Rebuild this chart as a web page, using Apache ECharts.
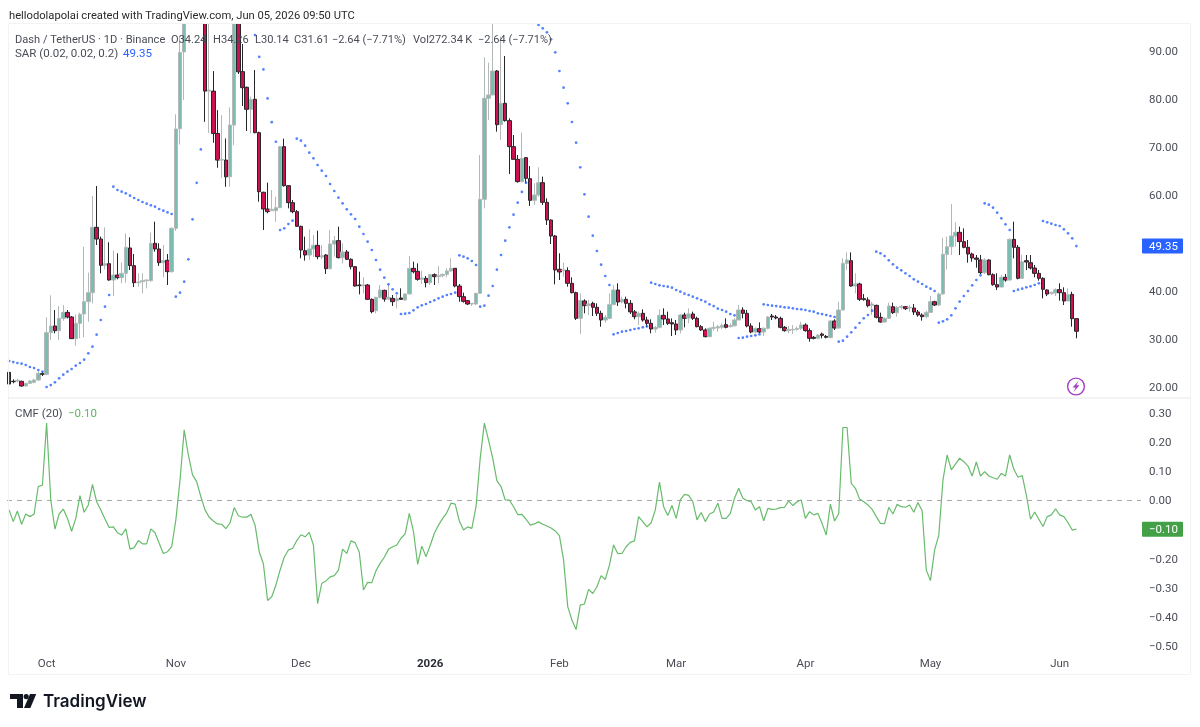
<!DOCTYPE html>
<html><head><meta charset="utf-8"><title>Dash / TetherUS</title>
<style>html,body{margin:0;padding:0;background:#fff}#c{width:1200px;height:727px}</style>
<script src="https://cdn.jsdelivr.net/npm/echarts@6/dist/echarts.min.js"></script></head>
<body><div id="c"></div>
<script>
const opens=[23.05,21.18,21.25,21.18,20.21,20.76,20.97,21.46,22.78,22.64,
31.32,32.71,31.73,34.3,35.55,34.58,30.07,33.26,35.21,37.78,
39.65,53.26,50.83,45.35,45.69,42.29,43.33,42.78,43.68,48.96,
45.28,41.73,41.94,42.15,42.15,49.93,48.75,45.9,46.39,44.03,
53.05,73.8,89.8,102,110,120,116,108,81.64,81.64,
72.82,67.27,67.27,63.79,74.56,100,85.7,82.43,77.85,79.93,
72.99,60.56,57.08,56.74,56.74,57.36,70.07,61.94,58.4,56.53,
53.47,48.4,47.5,48.75,49.51,47.08,47.5,44.65,49.79,50.49,
46.94,48.13,46.6,45.07,41.25,41.11,41.25,38.26,35.9,38.68,
40.14,38.33,38.47,37.99,38.54,38.12,39.38,44.72,44.1,42.43,
42.64,41.74,43.4,42.99,43.19,43.47,44.17,44.72,41.04,38.82,
37.99,37.29,37.29,39.51,59.1,80.14,80.84,85.83,74.65,79.1,
75.49,70.07,67.43,62.78,67.78,63.4,58.89,60.0,62.57,58.47,
54.79,51.46,44.52,44.24,44.24,41.6,39.65,34.31,37.92,36.95,
37.43,36.6,35.35,33.96,34.3,37.15,40.21,37.71,38.26,37.43,
35.65,34.65,35.35,33.96,33.26,32.08,32.43,34.93,34.17,33.4,
33.13,31.88,35.0,34.38,35.21,34.3,32.57,31.88,30.49,32.22,
32.29,32.43,32.99,32.57,32.78,33.96,36.04,35.35,32.71,31.46,
32.15,31.46,32.22,34.79,34.58,34.3,32.43,31.74,31.88,32.01,
32.22,32.92,31.74,30.35,30.14,31.04,30.55,30.28,33.75,32.29,
36.04,45.76,46.32,41.04,41.46,38.4,38.12,37.01,37.01,34.51,
33.54,34.3,36.73,35.49,36.6,36.73,36.46,36.46,35.62,35.0,
34.65,35.55,37.78,37.08,39.37,47.64,49.23,51.46,52.22,50.28,
49.1,47.71,46.87,46.46,43.82,46.46,43.4,41.32,40.83,42.85,
42.29,50.76,49.1,42.64,46.32,45.9,44.79,43.68,42.64,40.21,
39.51,39.58,40.28,39.65,37.92,39.3,34.24];
const closes=[20.62,21.11,21.39,20.21,20.76,21.25,21.46,22.85,22.64,31.32,
32.71,31.73,34.3,35.55,34.58,30.07,33.26,35.14,37.78,39.65,
53.26,50.83,45.35,45.69,42.29,43.33,42.78,43.68,49.1,45.28,
41.73,41.87,42.15,42.29,49.93,48.75,45.9,46.32,44.03,53.05,
73.75,89.7,102,110,120,116,125,81.64,81.85,72.82,
67.27,67.4,63.79,74.56,100,85.67,82.36,77.85,79.93,72.99,
60.69,57.08,56.53,57.01,57.36,70.07,61.94,58.4,56.53,53.47,
48.54,47.5,48.75,49.51,47.15,47.36,44.65,49.79,50.49,46.94,
48.13,46.6,45.07,41.04,41.11,41.25,38.26,35.7,38.68,40.21,
38.33,38.68,37.78,38.4,38.26,39.38,44.72,44.03,42.43,42.71,
41.74,43.4,42.99,43.19,43.47,44.17,44.72,41.04,38.82,37.85,
37.29,37.43,39.51,59.1,80.14,80.84,85.83,74.65,79.1,75.49,
70.07,67.43,62.78,67.64,63.47,58.89,60.0,62.57,58.47,54.79,
51.46,44.38,43.96,44.38,41.6,39.65,34.31,38.0,36.95,37.3,
36.6,35.35,33.96,34.51,37.15,40.21,37.71,38.26,37.43,35.65,
34.65,35.35,33.96,33.26,32.08,32.43,34.93,34.17,33.26,33.13,
31.88,35.0,34.3,35.21,34.3,32.57,31.88,30.49,32.22,32.43,
32.57,32.85,32.43,32.78,33.96,36.04,35.35,32.71,31.46,32.15,
31.46,32.22,34.58,34.58,34.38,32.43,31.74,32.01,32.01,32.22,
32.92,31.74,30.14,30.14,30.83,30.76,30.35,33.75,32.29,36.04,
45.76,46.46,41.04,41.46,38.26,38.19,36.94,37.29,34.51,33.54,
34.3,36.87,35.49,36.6,36.8,36.32,36.6,35.62,35.0,34.65,
35.55,37.78,37.08,39.37,47.64,49.23,51.46,52.22,50.28,49.1,
47.71,46.87,46.6,43.82,46.46,43.4,41.32,40.83,42.85,42.29,
50.76,49.1,42.64,46.11,46.04,44.79,43.68,42.64,40.35,39.37,
39.72,40.28,39.65,37.92,39.23,34.24,31.61];
const highs=[23.19,21.6,21.73,21.32,20.9,21.46,21.73,23.19,23.19,34.51,
39.1,36.04,36.87,37.08,36.04,34.79,35.07,35.49,49.23,43.82,
59.79,61.87,51.32,53.26,50.14,48.4,47.85,45.9,52.01,51.18,
47.71,43.68,43.68,42.43,52.15,54.44,49.93,49.58,47.71,53.26,
76.8,93,105,118,126,130,128,110,96.5,85.81,
77.68,76.64,71.78,78.24,104,103,91.46,82.6,80.5,86.04,
73.2,60.69,62.57,61.04,59.65,70.21,71.74,62.08,58.96,56.88,
53.6,51.32,52.85,51.67,52.57,49.58,47.71,52.71,51.46,53.4,
49.93,48.54,46.81,45.21,44.03,42.85,41.46,38.47,38.82,41.25,
40.28,41.25,39.17,39.17,40.55,39.51,47.29,46.11,45.76,44.24,
43.13,43.47,43.68,45.21,43.68,44.72,46.81,44.8,41.46,39.65,
38.12,37.5,39.65,68.33,88.68,87.57,97,86.04,92.99,88.96,
75.97,72.5,68.33,73.0,67.9,66.04,62.43,65.77,63.82,59.31,
54.9,51.67,47.85,45.9,44.93,42.85,39.86,39.51,38.27,38.13,
37.78,37.43,35.9,35.0,39.51,41.25,41.6,38.82,38.82,38.13,
36.04,35.7,36.18,34.65,34.1,32.71,36.18,36.39,35.7,34.3,
33.96,35.21,35.49,36.39,35.7,34.65,32.92,32.22,32.43,33.61,
32.92,33.26,34.3,33.26,34.3,37.08,36.6,36.04,33.26,32.43,
33.47,32.43,34.79,35.21,35.0,34.65,32.71,32.71,32.92,32.57,
33.61,33.26,32.22,30.63,31.04,31.32,30.83,33.96,34.1,37.78,
46.8,48.05,48.05,43.68,41.73,39.37,38.68,37.78,37.15,35.49,
34.51,37.57,37.57,36.87,37.08,36.87,37.08,37.29,36.04,35.35,
35.9,38.96,37.98,39.65,51.11,51.32,58.12,54.3,53.4,53.05,
50.62,47.98,47.5,47.5,46.8,46.6,43.68,43.68,43.33,43.54,
50.97,54.44,49.58,47.5,47.5,47.5,45.42,44.37,42.85,40.35,
39.86,40.55,41.6,40.76,40.55,39.86,34.26];
const lows=[20.21,20.76,20.97,20.07,20.07,20.62,20.76,21.32,22.29,22.43,
29.79,31.18,29.79,33.82,34.3,30.0,28.61,30.14,30.35,33.61,
37.43,49.58,43.68,44.51,42.15,38.96,42.43,41.6,41.73,44.37,
40.83,40.9,39.51,40.55,41.94,48.19,45.21,42.85,41.25,43.82,
52.5,70.5,79.8,98,104,108,108,75.25,72.96,70.88,
65.67,63.59,61.71,61.71,70.39,85.2,78.54,73.33,72.85,72.85,
58.6,52.71,56.18,56.88,54.44,57.3,61.74,57.22,56.18,53.4,
46.81,46.32,46.46,47.15,46.6,46.67,43.54,44.51,47.15,46.81,
45.76,46.46,44.51,40.9,39.3,39.51,38.12,35.35,35.35,38.47,
37.78,38.12,36.88,36.39,38.12,37.99,39.38,43.68,42.15,41.46,
40.76,41.25,41.25,41.6,42.85,42.85,44.0,40.76,37.78,37.57,
37.08,36.88,37.08,39.51,57.22,75.63,80.84,73.2,71.46,75.28,
64.38,67.4,62.57,62.64,62.43,57.71,57.92,59.65,57.92,53.75,
49.79,41.39,42.29,42.99,40.9,39.51,33.96,31.04,35.35,35.0,
34.79,34.79,32.57,33.4,34.1,37.08,36.88,37.43,36.39,35.21,
34.1,32.92,33.61,32.43,31.18,31.32,32.22,32.92,32.92,30.63,
30.83,31.18,32.43,33.26,33.96,32.43,31.67,30.35,30.35,31.74,
31.53,32.01,32.22,32.43,32.57,33.96,34.3,32.43,31.18,31.18,
31.18,30.63,32.01,33.96,34.1,32.22,31.53,31.18,31.04,31.74,
31.88,31.53,29.44,29.93,29.93,30.14,30.14,30.14,31.87,32.15,
35.9,44.37,40.9,39.51,37.92,37.99,36.6,35.0,34.3,33.4,
33.4,34.23,35.21,34.65,36.18,36.04,35.69,35.0,34.65,33.82,
34.3,35.49,36.87,36.87,39.23,44.51,47.5,49.23,47.5,48.89,
45.9,46.11,44.86,43.54,43.54,43.26,41.11,40.21,40.76,41.94,
42.15,46.8,42.43,42.64,44.37,44.51,42.85,42.15,38.47,38.96,
39.17,38.96,37.99,37.08,37.92,32.57,30.14];
const n=null;
const sar=[25.42,25.2,25.0,24.86,24.58,24.17,23.96,23.54,23.19,
20.0,20.41,20.97,21.8,22.57,23.19,23.75,24.44,25.0,25.69,27.01,28.4,30.9,33.96,36.73,39.17,
61.73,61.04,60.69,60.35,59.86,59.37,58.96,58.54,58.19,57.85,57.57,57.08,56.73,56.39,56.04,
38.82,39.65,41.94,46.6,54.93,62.54,69.49,
n,n,n,n,n,n,n,n,n,n,n,n,
93.31,88.79,86.16,80.11,75.18,71.09,
52.71,53.05,53.96,54.65,
71.74,71.32,70.28,68.82,67.64,66.25,65.07,63.96,62.29,60.83,59.45,58.27,57.02,55.97,55.0,
53.4,51.87,50.28,48.54,46.46,44.44,42.77,41.39,40.35,39.51,
35.21,35.28,35.42,35.97,36.6,37.01,37.29,37.71,38.06,38.47,38.82,39.17,39.38,39.65,
47.43,47.15,46.81,46.25,45.42,
36.74,36.94,39.03,41.04,44.44,47.5,50.49,53.27,55.9,58.4,60.63,62.57,
n,n,
95.42,94.72,93.89,92.43,89.72,85.83,82.36,79.1,75.21,70.9,65.77,60.14,55.49,51.53,48.33,45.49,43.13,41.25,
30.97,31.25,31.53,31.67,31.88,32.08,32.22,32.43,32.64,
41.73,41.46,41.18,41.04,40.9,40.69,40.21,39.86,39.44,39.17,38.82,38.47,38.13,37.78,37.22,36.87,36.32,36.04,35.69,35.21,34.93,
30.21,30.28,30.49,30.63,30.76,30.97,
37.22,37.08,36.94,36.87,36.74,36.6,36.53,36.39,36.25,36.18,36.04,35.83,35.69,35.35,35.2,35.0,34.79,34.58,
29.44,29.65,30.49,31.39,32.36,33.33,34.3,35.0,35.9,
48.19,47.85,47.29,46.39,45.55,44.86,44.3,43.68,43.12,42.43,41.94,41.46,40.9,40.49,40.0,
33.4,33.68,34.1,34.93,36.39,37.78,38.96,40.0,41.18,42.29,43.26,
58.26,57.98,57.36,56.32,55.14,53.89,52.71,
40.0,40.28,40.49,40.76,40.97,41.25,41.6,
54.58,54.3,54.03,53.75,53.54,52.85,52.01,50.97,49.35];
const cmf=[-0.034,-0.074,-0.038,-0.083,-0.048,-0.057,-0.048,0.046,0.051,0.263,
0,-0.1,-0.048,-0.031,-0.063,-0.107,-0.063,0.015,-0.042,-0.017,
0.053,-0.006,-0.034,-0.065,-0.094,-0.092,-0.112,-0.12,-0.099,-0.168,
-0.163,-0.139,-0.15,-0.15,-0.099,-0.112,-0.148,-0.183,-0.177,-0.16,
-0.068,0.068,0.24,0.154,0.086,0.063,0.011,-0.034,-0.059,-0.072,
-0.082,-0.083,-0.098,-0.078,-0.026,-0.054,-0.059,-0.059,-0.049,-0.086,
-0.177,-0.219,-0.344,-0.331,-0.291,-0.24,-0.196,-0.171,-0.166,-0.139,
-0.119,-0.126,-0.111,-0.154,-0.355,-0.285,-0.277,-0.263,-0.259,-0.24,
-0.168,-0.183,-0.14,-0.146,-0.179,-0.308,-0.282,-0.283,-0.242,-0.217,
-0.196,-0.169,-0.16,-0.154,-0.131,-0.116,-0.046,-0.108,-0.22,-0.158,
-0.194,-0.156,-0.114,-0.086,-0.063,-0.043,-0.011,-0.014,-0.072,-0.103,
-0.092,-0.097,-0.023,0.143,0.263,0.205,0.143,0.066,0.046,0,
0,-0.023,-0.05,-0.049,-0.066,-0.086,-0.082,-0.075,-0.083,-0.089,
-0.096,-0.106,-0.122,-0.205,-0.365,-0.411,-0.443,-0.36,-0.356,-0.306,
-0.32,-0.297,-0.259,-0.272,-0.223,-0.154,-0.184,-0.183,-0.16,-0.145,
-0.14,-0.057,-0.074,-0.092,-0.078,-0.034,0.061,-0.023,-0.053,-0.019,
-0.063,0,0.019,0.016,-0.006,-0.068,-0.043,-0.074,-0.048,-0.041,
-0.011,-0.063,-0.063,-0.046,0.006,0.04,0.006,-0.002,-0.006,-0.034,
-0.023,-0.071,-0.029,-0.032,-0.031,-0.026,-0.025,-0.003,-0.019,-0.006,
0,-0.063,-0.04,-0.051,-0.046,-0.08,-0.12,-0.014,-0.072,-0.046,
0.248,0.248,0.057,0.04,0.003,-0.006,-0.017,-0.032,-0.057,-0.08,
-0.081,-0.025,-0.048,-0.015,-0.023,-0.025,-0.017,-0.042,-0.009,-0.037,
-0.24,-0.276,-0.171,-0.12,0.068,0.154,0.103,0.123,0.143,0.131,
0.116,0.082,0.13,0.082,0.097,0.082,0.076,0.071,0.091,0.082,
0.154,0.105,0.078,0.084,0.017,-0.066,-0.041,-0.066,-0.091,-0.057,
-0.051,-0.03,-0.051,-0.057,-0.078,-0.103,-0.1];
const priceTicks=[90,80,70,60,40,30,20];
const cmfTicks=[0.3,0.2,0.1,0,-0.2,-0.3,-0.4,-0.5];
const monthStarts=['2025-10-01','2025-11-01','2025-12-01','2026-01-01','2026-02-01','2026-03-01','2026-04-01','2026-05-01','2026-06-01'];
const monthNames=['Oct','Nov','Dec','2026','Feb','Mar','Apr','May','Jun'];
const lastSar=49.35, lastCmf=-0.10;
const slots=272;
const dates=[];
for(let i=0;i<slots;i++){dates.push(new Date(Date.UTC(2025,8,22+i)).toISOString().slice(0,10));}
const pad=a=>a.concat(new Array(slots-a.length).fill(null));
const candles=opens.map((o,i)=>[o,closes[i],lows[i],highs[i]]);
const FONT='Roboto, Inter, sans-serif';
const TXT='#4a4d57';
const fmtNum=v=>v.toFixed(2).replace('-','\u2212');
const fmtTick=v=>'{a|'+fmtNum(v)+'}';
const tickRich={a:{padding:[3,0,0,0],color:TXT,fontFamily:FONT,fontSize:11.5}};
const chart=echarts.init(document.getElementById('c'),null,{renderer:'canvas'});
const txt=(x,y,s,color,size,extra)=>Object.assign({type:'text',z:100,silent:true,x:x,y:y,
  style:{text:s,fill:color||TXT,font:(size||11.5)+'px '+FONT,textVerticalAlign:'middle'}},extra||{});
const UP='#7dbdb1', DOWN='#cc1150';
chart.setOption({
  animation:false,backgroundColor:'#fff',
  grid:[{left:7,top:23,width:1134,height:375},{left:7,top:398,width:1134,height:277}],
  xAxis:[
    {type:'category',gridIndex:0,data:dates,boundaryGap:true,axisLine:{show:false},axisTick:{show:false},axisLabel:{show:false},splitLine:{show:false}},
    {type:'category',gridIndex:1,data:dates,boundaryGap:true,axisLine:{show:false},axisTick:{show:false},splitLine:{show:false},
      axisLabel:{inside:true,margin:5,interval:(i,v)=>monthStarts.includes(v),hideOverlap:false,color:TXT,fontFamily:FONT,fontSize:11.5,
        formatter:v=>{const k=monthNames[monthStarts.indexOf(v)];return k==='2026'?'{b|'+k+'}':k;},
        rich:{b:{fontWeight:'bold',fontFamily:FONT,fontSize:11.5,color:'#2a2d36'}}}}
  ],
  yAxis:[
    {type:'value',gridIndex:0,position:'right',min:17.71,max:95.83,scale:true,axisLine:{show:false},axisTick:{show:false},splitLine:{show:false},
      axisLabel:{customValues:priceTicks,margin:8,formatter:fmtTick,rich:tickRich,showMinLabel:true,showMaxLabel:true}},
    {type:'value',gridIndex:1,position:'right',min:-0.599,max:0.349,scale:true,axisLine:{show:false},axisTick:{show:false},splitLine:{show:false},
      axisLabel:{customValues:cmfTicks,margin:8,formatter:fmtTick,rich:tickRich}}
  ],
  series:[
    {type:'candlestick',name:'Dash / TetherUS',xAxisIndex:0,yAxisIndex:0,data:pad(candles).map(d=>d||'-'),barWidth:4,clip:true,
      itemStyle:{color:UP,color0:DOWN,borderColor:'#b4b8b7',borderColor0:'#26262a',borderWidth:1}},
    {type:'scatter',name:'SAR',xAxisIndex:0,yAxisIndex:0,data:pad(sar),symbol:'circle',symbolSize:2.7,z:5,clip:true,itemStyle:{color:'#2962ff'}},
    {type:'line',name:'CMF',xAxisIndex:1,yAxisIndex:1,data:pad(cmf),showSymbol:false,connectNulls:false,lineStyle:{color:'#68bb6c',width:1.2},z:5,
      markLine:{silent:true,symbol:'none',label:{show:false},animation:false,data:[{yAxis:0}],lineStyle:{color:'#a8a8a8',type:[5,5],width:1}}}
  ]
});
const yPrice=chart.convertToPixel({yAxisIndex:0},lastSar);
const yCmf=chart.convertToPixel({yAxisIndex:1},lastCmf);
chart.setOption({graphic:[
  {type:'rect',z:80,silent:true,shape:{x:0,y:0,width:1200,height:23},style:{fill:'#fff'}},
  {type:'rect',z:90,silent:true,shape:{x:8.5,y:23.5,width:1182,height:651},style:{fill:'none',stroke:'#f2f3f4',lineWidth:1}},
  {type:'line',z:90,silent:true,shape:{x1:8,y1:398,x2:1191,y2:398},style:{stroke:'#e6e7e9',lineWidth:1}},
  txt(9,16.5,'hellodolapolai created with TradingView.com, Jun 05, 2026 09:50 UTC','#2a2a2e',11.2),
  txt(15,40,'Dash / TetherUS \u00b7 1D \u00b7 Binance',TXT,11.1),
  txt(171,40,'O34.24',TXT,11.1),txt(213,40,'H34.26',TXT,11.1),txt(255,40,'L30.14',TXT,11.1),txt(294,40,'C31.61',TXT,11.1),
  txt(332,40,'\u22122.64 (\u22127.71%)',TXT,11),txt(413,40,'Vol272.34\u2009K',TXT,11.1),txt(478,40,'\u22122.64 (\u22127.71%)',TXT,11),
  txt(15,54.5,'SAR (0.02, 0.02, 0.2)'),txt(123,54.5,'49.35','#2962ff'),
  txt(15,414.5,'CMF (20)'),txt(68,414.5,'\u22120.10','#5cb562'),
  {type:'rect',z:95,silent:true,shape:{x:1142,y:yPrice-7.5,width:41,height:15,r:1},style:{fill:'#2962ff'}},
  txt(1149,yPrice+1,fmtNum(lastSar),'#fff',11.5,{z:96}),
  {type:'rect',z:95,silent:true,shape:{x:1142,y:yCmf-7.5,width:41,height:15,r:1},style:{fill:'#43a047'}},
  txt(1149,yCmf+1,fmtNum(lastCmf),'#fff',11.5,{z:96}),
  {type:'circle',z:95,silent:true,shape:{cx:1076,cy:386.5,r:8.4},style:{fill:'#fff',stroke:'#a63fc4',lineWidth:1.4}},
  {type:'polygon',z:96,silent:true,shape:{points:[[1078.5,381],[1072.5,387.5],[1075.6,387.5],[1073.5,392],[1079.5,385.3],[1076.4,385.3]]},style:{fill:'#a63fc4'}},
  {type:'polygon',z:95,silent:true,shape:{points:[[10,694],[23,694],[23,708],[17,708],[17,699],[10,699]]},style:{fill:'#131722'}},
  {type:'circle',z:95,silent:true,shape:{cx:26.2,cy:696.6,r:2.6},style:{fill:'#131722'}},
  {type:'polygon',z:95,silent:true,shape:{points:[[30,694],[36.2,694],[30.4,708],[24,708]]},style:{fill:'#131722'}},
  {type:'text',z:95,silent:true,x:43,y:702,style:{text:'TradingView',fill:'#131722',font:'600 17px Inter, Roboto, sans-serif',textVerticalAlign:'middle'}}
]});
</script></body></html>
